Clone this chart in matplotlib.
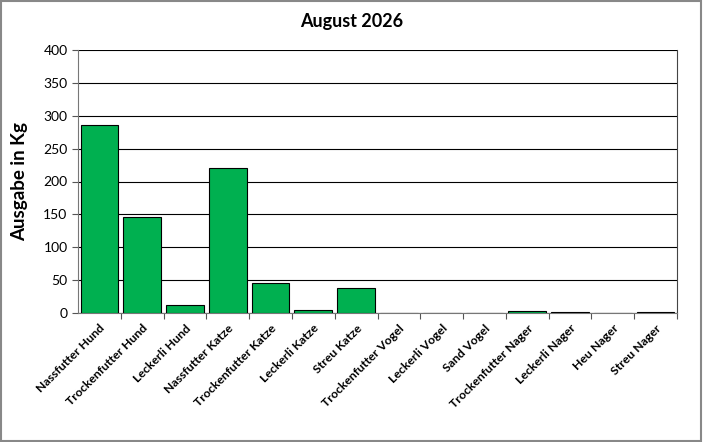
import matplotlib.pyplot as plt
import numpy as np

categories = ['Nassfutter Hund', 'Trockenfutter Hund', 'Leckerli Hund',
              'Nassfutter Katze', 'Trockenfutter Katze', 'Leckerli Katze',
              'Streu Katze', 'Trockenfutter Vogel', 'Leckerli Vogel',
              'Sand Vogel', 'Trockenfutter Nager', 'Leckerli Nager',
              'Heu Nager', 'Streu Nager']
values = [286, 146, 12, 220, 46, 5, 38, 0, 0, 0, 2.5, 0.8, 0, 2]
yticks = [0, 50, 100, 150, 200, 250, 300, 350, 400]

plt.rcParams['font.family'] = ['Lato', 'DejaVu Sans']

fig = plt.figure(figsize=(7.04, 4.42), dpi=100)
ax = fig.add_axes([78/704, 1-313/442, (677-78)/704, (313-50)/442])

x = np.arange(len(categories))
ax.bar(x, values, width=0.88, color='#00b050', edgecolor='black', linewidth=0.8, zorder=3)

ax.set_xlim(-0.5, len(categories) - 0.5)
ax.set_ylim(0, 400)
ax.set_yticks(yticks)
ax.yaxis.grid(True, color='black', linewidth=0.8, zorder=0)
ax.tick_params(axis='y', labelsize=10, length=4, width=0.8, color='#555555')

ax.set_xticks(x + 0.5, minor=False)
ax.set_xticklabels([])
ax.set_xticks(x, minor=True)
ax.set_xticklabels(categories, minor=True, rotation=45, ha='right',
                   rotation_mode='anchor', fontsize=8.8, fontweight='bold')
ax.tick_params(axis='x', which='minor', length=0, pad=7)
ax.tick_params(axis='x', which='major', length=4, width=0.8, color='#555555')

for s in ['left', 'bottom']:
    ax.spines[s].set_color('#777777')
ax.spines['top'].set_visible(False)
ax.spines['right'].set_color('#444444')

ax.set_ylabel('Ausgabe in Kg', fontsize=13.5, fontweight='bold', labelpad=11)
fig.text(0.5, 1 - 22/442, 'August 2026', ha='center', va='center',
         fontsize=13, fontweight='bold')

fig.patches.append(plt.Rectangle((0.002, 0.003), 0.994, 0.994, transform=fig.transFigure,
                                 fill=False, edgecolor='#888888', linewidth=1.5))

plt.savefig('out.png', dpi=100)
